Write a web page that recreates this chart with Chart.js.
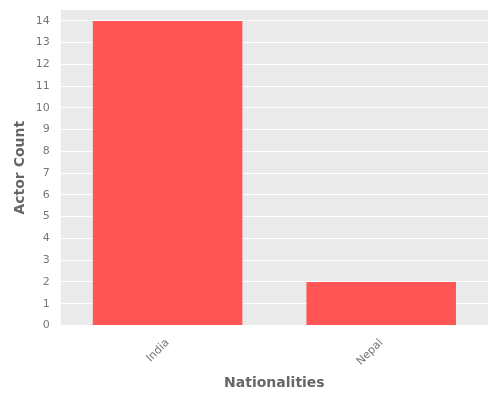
<!DOCTYPE html>
<html>
<head>
<script src="https://cdn.jsdelivr.net/npm/chart.js@4"></script>
<style>body{margin:0;background:#fff}#wrap{width:500px;height:400px}</style>
</head>
<body>
<div id="wrap"><canvas id="c"></canvas></div>
<script>
const nationalities = ["India", "Nepal"];
const actorCounts = [14, 2];

const plotBg = {
  id: "plotBg",
  beforeDraw(chart) {
    const { ctx, chartArea: a } = chart;
    ctx.save();
    ctx.fillStyle = "#EAEAEA";
    ctx.fillRect(a.left, a.top, a.right - a.left, a.bottom - a.top);
    ctx.restore();
  }
};

new Chart(document.getElementById("c"), {
  type: "bar",
  data: {
    labels: nationalities,
    datasets: [{ data: actorCounts, backgroundColor: "#FF5555", categoryPercentage: 1, barPercentage: 0.7 }]
  },
  options: {
    responsive: true,
    maintainAspectRatio: false,
    animation: false,
    layout: { padding: { top: 10, right: 12, left: 8, bottom: 4 } },
    plugins: { legend: { display: false }, tooltip: { enabled: false } },
    scales: {
      x: {
        grid: { display: false },
        border: { display: false },
        ticks: { color: "#777", font: { family: "DejaVu Sans", size: 11 }, maxRotation: 45, minRotation: 45 },
        title: { display: true, text: "Nationalities", color: "#666", font: { family: "DejaVu Sans", size: 14, weight: "bold" } }
      },
      y: {
        min: 0, max: 14.5,
        afterBuildTicks(s) { s.ticks = Array.from({ length: 15 }, (_, i) => ({ value: i })); },
        grid: { color: "#fff", lineWidth: 1 },
        border: { display: false },
        ticks: { color: "#777", font: { family: "DejaVu Sans", size: 11 } },
        title: { display: true, text: "Actor Count", color: "#666", font: { family: "DejaVu Sans", size: 14, weight: "bold" } }
      }
    }
  },
  plugins: [plotBg]
});
</script>
</body>
</html>
